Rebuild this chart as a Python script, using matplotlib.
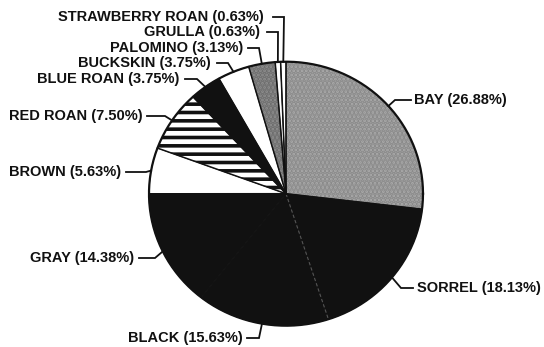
import numpy as np
import matplotlib
matplotlib.use("Agg")
import matplotlib.pyplot as plt

# slice data, clockwise from 12 o'clock
colours = ["BAY", "SORREL", "BLACK", "GRAY", "BROWN", "RED ROAN",
           "BLUE ROAN", "BUCKSKIN", "PALOMINO", "GRULLA", "STRAWBERRY ROAN"]
percent = [26.88, 18.13, 15.63, 14.38, 5.63, 7.50, 3.75, 3.75, 3.13, 0.63, 0.63]

INK = "#111111"
faces   = ["#a9a9a9", INK, INK, INK, "white", "white",
           INK, "white", "#8e8e8e", "white", "white"]
hatches = ["....", None, None, None, None, "--", None, None, "....", None, None]
hatch_c = ["#8a8a8a", INK, INK, INK, INK, INK, INK, INK, "#6e6e6e", INK, INK]

# label layout in pixel coords: (elbow, end of leader, text anchor x, ha)
layout = {
    "BAY":             ((395, 100), (411, 100), 414, "left"),
    "SORREL":          ((401, 288), (413, 288), 417, "left"),
    "BLACK":           ((259, 338), (247, 338), 243, "right"),
    "GRAY":            ((155, 258), (139, 258), 134, "right"),
    "BROWN":           ((146, 172), (126, 172), 121, "right"),
    "RED ROAN":        ((165, 116), (147, 116), 143, "right"),
    "BLUE ROAN":       ((197, 79),  (185, 79),  179, "right"),
    "BUCKSKIN":        ((228, 63),  (217, 63),  211, "right"),
    "PALOMINO":        ((259, 48),  (248, 48),  243, "right"),
    "GRULLA":          ((278, 32),  (267, 32),  260, "right"),
    "STRAWBERRY ROAN": ((284, 17),  (273, 17),  264, "right"),
}

W, H = 544, 347
cx, cy, rx, ry = 286, 193.7, 137, 132


def px(x, y):
    return (x - cx) / rx, (cy - y) / ry


plt.rcParams["hatch.linewidth"] = 2.6
fig = plt.figure(figsize=(W / 100, H / 100), dpi=100)
ax = fig.add_axes([0, 0, 1, 1])

wedges, _ = ax.pie(percent, startangle=90, counterclock=False,
                   colors=faces, radius=1,
                   wedgeprops=dict(linewidth=0.6, edgecolor=INK))
for w, h, hc in zip(wedges, hatches, hatch_c):
    if h:
        w.set_hatch(h)
        w.set_edgecolor(hc)
        w.set_linewidth(0)

# slice borders (trailing edge of each wedge); none between the dark slices
for i, w in enumerate(wedges):
    a = np.deg2rad(w.theta1)
    nxt = (i + 1) % len(wedges)
    if faces[i] == INK and faces[nxt] == INK:
        if colours[i] == "SORREL":
            # faint seam visible in the print
            ax.plot([0, np.cos(a)], [0, np.sin(a)], color="#555555",
                    lw=0.8, ls=(0, (3, 2)))
        continue
    ax.plot([0, np.cos(a)], [0, np.sin(a)], color=INK, lw=1.1)

t = np.linspace(0, 2 * np.pi, 400)
ax.plot(np.cos(t), np.sin(t), color=INK, lw=1.6)

ax.set_aspect("auto")
ax.set_xlim(-cx / rx, (W - cx) / rx)
ax.set_ylim(-(H - cy) / ry, cy / ry)
ax.axis("off")

for w, name, p in zip(wedges, colours, percent):
    ang = np.deg2rad((w.theta1 + w.theta2) / 2)
    sx, sy = np.cos(ang), np.sin(ang)
    (ex, ey), (tx, ty), lx, ha = layout[name]
    e = px(ex, ey)
    tt = px(tx, ty)
    ax.plot([sx, e[0], tt[0]], [sy, e[1], tt[1]], color=INK, lw=1.3,
            solid_joinstyle="miter")
    ax.text(*px(lx, ty), f"{name} ({p:.2f}%)", ha=ha, va="center",
            fontsize=10.5, fontweight="bold", family="Liberation Sans",
            color=INK)

fig.savefig("out.png", dpi=100)
